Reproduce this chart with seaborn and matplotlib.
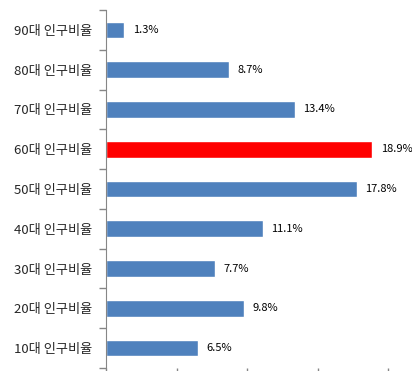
import matplotlib
matplotlib.use("Agg")
import matplotlib.pyplot as plt
import seaborn as sns
import pandas as pd

labels = ["90대 인구비율", "80대 인구비율", "70대 인구비율", "60대 인구비율", "50대 인구비율",
          "40대 인구비율", "30대 인구비율", "20대 인구비율", "10대 인구비율"]
values = [1.3, 8.7, 13.4, 18.9, 17.8, 11.1, 7.7, 9.8, 6.5]
highlight = "60대 인구비율"

sns.set_style("white")
plt.rcParams['font.family'] = ['Noto Sans CJK KR', 'DejaVu Sans']

df = pd.DataFrame({"label": labels, "value": values})
colors = {l: ("#FF0000" if l == highlight else "#4F81BD") for l in labels}

fig = plt.figure(figsize=(4.12, 3.71), dpi=100)
ax = fig.add_axes([106 / 412, 3 / 371, 282 / 412, 358 / 371])
sns.barplot(data=df, x="value", y="label", hue="label", palette=colors, order=labels,
            orient="h", width=0.42, legend=False, saturation=1, ax=ax)

for i, v in enumerate(values):
    ax.text(v + 0.6, i, f"{v}%", va="center", ha="left", fontsize=8, color="black")

ax.set_xlim(0, 20)
ax.set_ylim(8.5, -0.5)
ax.set_xlabel("")
ax.set_ylabel("")
ax.set_xticks([0, 5, 10, 15, 20])
ax.set_xticklabels([])
ax.tick_params(axis="x", bottom=True, length=4, color="#868686", width=1)
ax.set_yticks(range(len(labels)))
ax.set_yticklabels(labels, fontsize=9.5)
ax.set_yticks([i - 0.5 for i in range(len(labels) + 1)], minor=True)
ax.tick_params(axis="y", which="major", length=0, pad=10)
ax.tick_params(axis="y", which="minor", left=True, length=5, color="#868686", width=1)

for s in ["top", "right", "bottom"]:
    ax.spines[s].set_visible(False)
ax.spines["left"].set_color("#868686")

fig.savefig("out.png", dpi=100)
